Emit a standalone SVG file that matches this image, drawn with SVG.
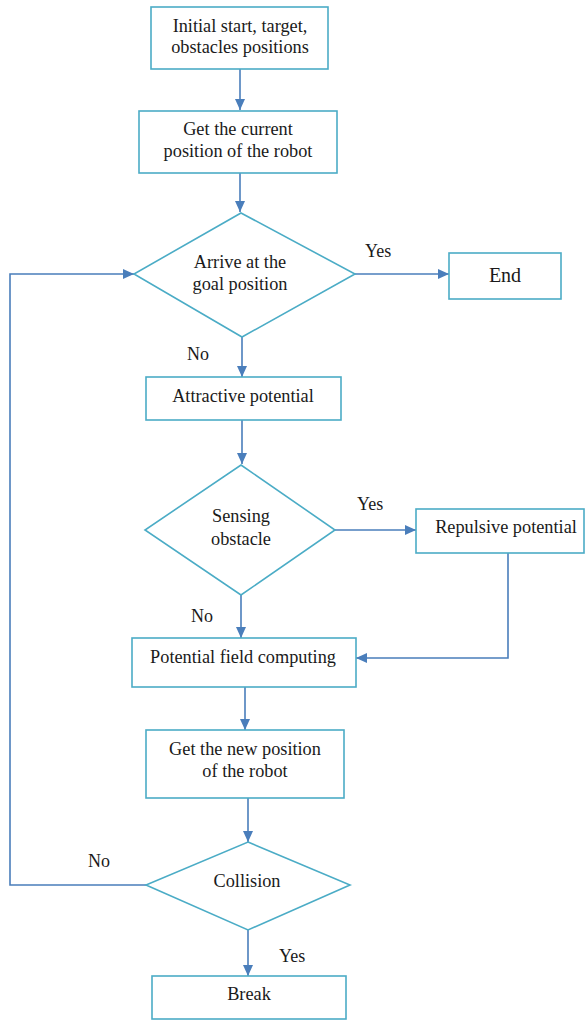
<svg xmlns="http://www.w3.org/2000/svg" width="585" height="1021" viewBox="0 0 585 1021">
<style>
.n{fill:#fff;stroke:#4bacc6;stroke-width:1.6}
.t{font-family:'Liberation Serif','DejaVu Serif',serif;font-size:18.3px;fill:#1a1a1a;text-anchor:middle}
.l{font-family:'Liberation Serif','DejaVu Serif',serif;font-size:18px;fill:#1a1a1a}
.c{fill:none;stroke:#4a7ebb;stroke-width:1.6}
</style>
<defs>
<marker id="ah" markerUnits="userSpaceOnUse" markerWidth="12" markerHeight="12" viewBox="0 0 12 12" refX="11" refY="6" orient="auto">
<path d="M0,1 L11,6 L0,11 Z" fill="#4a7ebb"/>
</marker>
</defs>
<rect width="585" height="1021" fill="#fff"/>
<g id="connectors">
<path class="c" d="M240,69 V110" marker-end="url(#ah)"/>
<path class="c" d="M240,173 V212" marker-end="url(#ah)"/>
<path class="c" d="M355,274 H449" marker-end="url(#ah)"/>
<path class="c" d="M242,337 V377" marker-end="url(#ah)"/>
<path class="c" d="M242,420 V464" marker-end="url(#ah)"/>
<path class="c" d="M335,530 H416" marker-end="url(#ah)"/>
<path class="c" d="M241,595 V638" marker-end="url(#ah)"/>
<path class="c" d="M508,553 V658 H356" marker-end="url(#ah)"/>
<path class="c" d="M245,687 V730" marker-end="url(#ah)"/>
<path class="c" d="M248,798 V842" marker-end="url(#ah)"/>
<path class="c" d="M146,885 H10 V274 H134" marker-end="url(#ah)"/>
<path class="c" d="M248,930 V976" marker-end="url(#ah)"/>
<text class="l" x="365" y="257">Yes</text>
<text class="l" x="187" y="360">No</text>
<text class="l" x="357" y="510">Yes</text>
<text class="l" x="191" y="622">No</text>
<text class="l" x="88" y="867">No</text>
<text class="l" x="279" y="962">Yes</text>
</g>
<g id="n1"><rect class="n" x="151" y="7" width="177" height="62"/>
<text class="t" x="240" y="32">Initial start, target,</text><text class="t" x="240" y="53">obstacles positions</text></g>
<g id="n2"><rect class="n" x="139" y="111" width="198" height="62"/>
<text class="t" x="238" y="135">Get the current</text><text class="t" x="238" y="157">position of the robot</text></g>
<g id="n3"><polygon class="n" points="241,213 355,274 242,337 134,274"/>
<text class="t" x="240" y="268">Arrive at the</text><text class="t" x="240" y="290">goal position</text></g>
<g id="n4"><rect class="n" x="449" y="253" width="112" height="46"/>
<text class="t" x="505" y="282" style="font-size:20px">End</text></g>
<g id="n5"><rect class="n" x="146" y="377" width="195" height="43"/>
<text class="t" x="243" y="402">Attractive potential</text></g>
<g id="n6"><polygon class="n" points="241,465 335,530 241,595 145,530"/>
<text class="t" x="241" y="522">Sensing</text><text class="t" x="241" y="545">obstacle</text></g>
<g id="n7"><rect class="n" x="416" y="509" width="168" height="44"/>
<text class="t" x="506" y="533">Repulsive potential</text></g>
<g id="n8"><rect class="n" x="132" y="638" width="224" height="49"/>
<text class="t" x="243" y="663">Potential field computing</text></g>
<g id="n9"><rect class="n" x="146" y="730" width="198" height="68"/>
<text class="t" x="245" y="755">Get the new position</text><text class="t" x="245" y="777">of the robot</text></g>
<g id="n10"><polygon class="n" points="248,842 350,885 248,930 146,885"/>
<text class="t" x="247" y="887">Collision</text></g>
<g id="n11"><rect class="n" x="152" y="976" width="194" height="43"/>
<text class="t" x="249" y="1000">Break</text></g>
</svg>
